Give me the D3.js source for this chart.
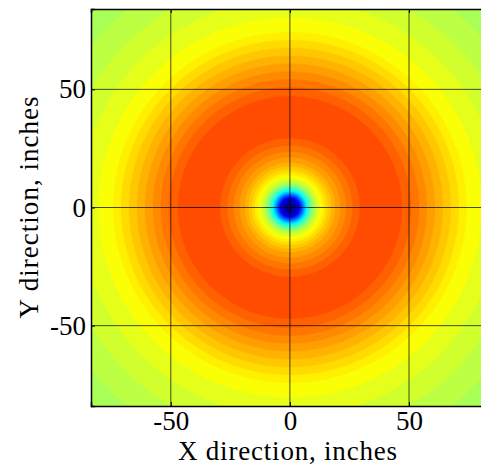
<!DOCTYPE html>
<html>
<head>
<meta charset="utf-8">
<script src="https://cdn.jsdelivr.net/npm/d3@7"></script>
<style>
  html, body { margin: 0; padding: 0; background: #fff; }
  svg { display: block; }
  text { font-family: "Liberation Serif", "Times New Roman", serif; fill: #000; }
</style>
</head>
<body>
<svg id="chart" width="481" height="471"></svg>
<script>
// ---- data ----
// radial profile of the field: radius (inches) -> colormap position (jet, 0..1)
const radii  = [0, 2, 3.5, 5, 7, 9, 11, 13, 16, 19, 23, 27, 31, 45, 50, 55, 60, 65, 70, 75, 84, 95, 105, 120];
const levels = [0.0, 0.03, 0.09, 0.2, 0.37, 0.5, 0.58, 0.63, 0.68, 0.72, 0.755, 0.785, 0.81, 0.81, 0.785, 0.755, 0.725, 0.695, 0.665, 0.635, 0.61, 0.585, 0.565, 0.54];
const xTicks = [-50, 0, 50];
const yTicks = [-50, 0, 50];
const xLabel = "X direction, inches";
const yLabel = "Y direction, inches";
const xDomain = [-83.5, 84];
const yDomain = [-84, 84];
const contourStep = 0.02;

// ---- layout ----
const svg = d3.select("#chart");
const pL = 91, pR = 490, pT = 9, pB = 406;
const fontSize = 27;
const x = d3.scaleLinear().domain(xDomain).range([pL, pR]);
const y = d3.scaleLinear().domain(yDomain).range([pB, pT]);

// jet colormap
const jet = d3.scaleLinear()
  .domain([0, 0.125, 0.375, 0.625, 0.875, 1])
  .range(["#000080", "#0000ff", "#00ffff", "#ffff00", "#ff0000", "#800000"])
  .interpolate(d3.interpolateRgb)
  .clamp(true);

// field sampled on a grid from the radial profile
const profile = d3.scaleLinear().domain(radii).range(levels).clamp(true);
const n = 300;
const gx = d3.scaleLinear().domain([0, n - 1]).range(xDomain);
const gy = d3.scaleLinear().domain([0, n - 1]).range([yDomain[1], yDomain[0]]);
const grid = new Float64Array(n * n);
for (let j = 0; j < n; j++) {
  for (let i = 0; i < n; i++) {
    grid[j * n + i] = profile(Math.hypot(gx(i), gy(j)));
  }
}
const thresholds = [-1].concat(d3.range(1, 41).map(k => +(k * contourStep).toFixed(4)));
const contours = d3.contours().size([n, n]).thresholds(thresholds)(grid);

const sx = (pR - pL) / (n - 1), sy = (pB - pT) / (n - 1);
const path = d3.geoPath(d3.geoTransform({
  point: function (px, py) { this.stream.point(pL + (px - 0.5) * sx, pT + (py - 0.5) * sy); }
}));

svg.append("defs").append("clipPath").attr("id", "clip")
  .append("rect").attr("x", pL).attr("y", pT).attr("width", pR - pL).attr("height", pB - pT);

const g = svg.append("g").attr("clip-path", "url(#clip)");
const bandColor = d => jet(d.value < 0 ? 0 : d.value);
g.selectAll("path.band").data(contours).join("path")
  .attr("class", "band")
  .attr("d", path)
  .attr("fill", bandColor)
  .attr("stroke", bandColor)
  .attr("stroke-width", 0.4);

// grid lines
g.selectAll("line.gx").data(xTicks).join("line")
  .attr("x1", d => x(d)).attr("x2", d => x(d)).attr("y1", pT).attr("y2", pB)
  .attr("stroke", "#000").attr("stroke-opacity", 0.7).attr("stroke-width", 1);
g.selectAll("line.gy").data(yTicks).join("line")
  .attr("y1", d => y(d)).attr("y2", d => y(d)).attr("x1", pL).attr("x2", pR)
  .attr("stroke", "#000").attr("stroke-opacity", 0.7).attr("stroke-width", 1);

// axes (inward ticks, matlab style)
const fmt = d => d < 0 ? "-" + Math.abs(d) : String(d);
const xAxisB = d3.axisBottom(x).tickValues(xTicks).tickSize(-4).tickPadding(5).tickFormat(fmt);
const xAxisT = d3.axisTop(x).tickValues(xTicks).tickSize(-4).tickFormat("");
const yAxisL = d3.axisLeft(y).tickValues(yTicks).tickSize(-4).tickPadding(5).tickFormat(fmt);

const ax = svg.append("g").attr("transform", `translate(0,${pB})`).call(xAxisB);
const axT = svg.append("g").attr("transform", `translate(0,${pT})`).call(xAxisT);
const ay = svg.append("g").attr("transform", `translate(${pL},0)`).call(yAxisL);
[ax, axT, ay].forEach(a => {
  a.select(".domain").attr("stroke", "#000").attr("stroke-width", 1.5);
  a.selectAll(".tick line").attr("stroke", "#000").attr("stroke-width", 1);
  a.selectAll("text").attr("font-size", fontSize).attr("font-family", "Liberation Serif, serif").attr("fill", "#000");
});

svg.append("text").attr("x", 178).attr("y", 460)
  .attr("font-size", fontSize).attr("textLength", 219).attr("lengthAdjust", "spacing").text(xLabel);
svg.append("text").attr("transform", `translate(38,${y(0) + 111}) rotate(-90)`)
  .attr("font-size", fontSize).attr("textLength", 222).attr("lengthAdjust", "spacing").text(yLabel);
</script>
</body>
</html>
